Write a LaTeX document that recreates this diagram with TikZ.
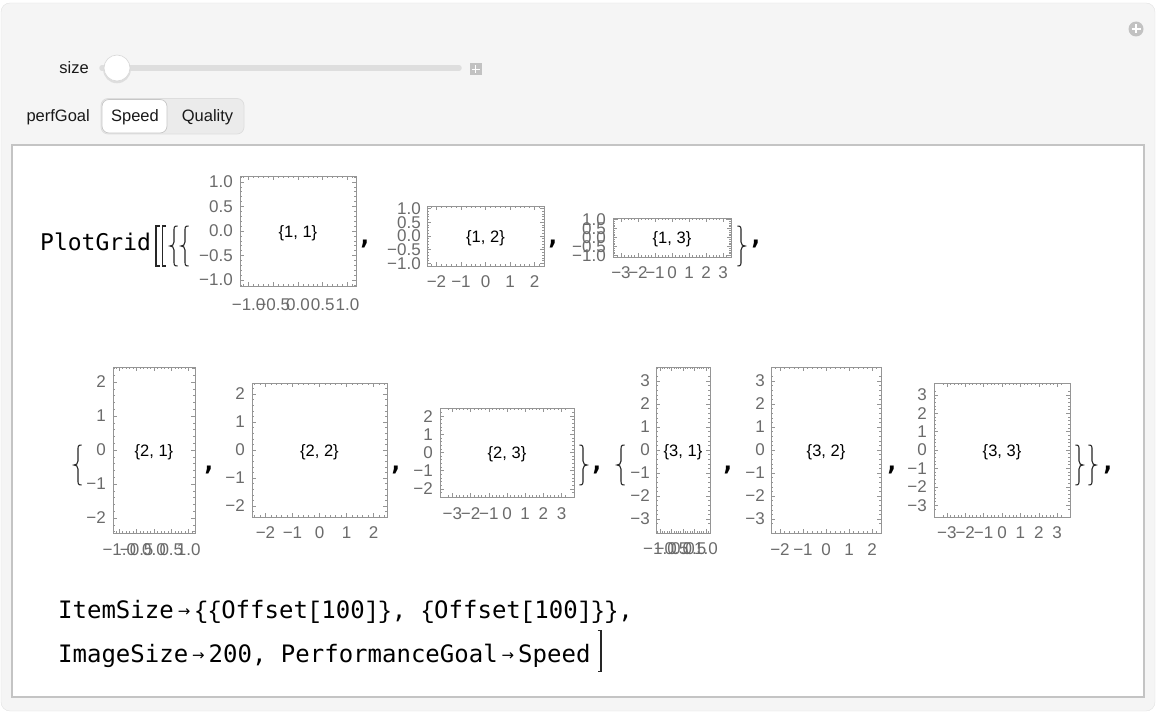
\documentclass[tikz,border=0pt]{standalone}
\usepackage{fontspec}
\setmainfont{Liberation Sans}
\newfontfamily\monof{DejaVu Sans Mono}
\newfontfamily\thinmono{Liberation Mono}
\newfontfamily\dvs{DejaVu Sans}
\definecolor{bgc}{HTML}{F5F5F5}
\definecolor{bgb}{HTML}{E2E2E2}
\definecolor{boxb}{HTML}{C4C4C4}
\definecolor{frgray}{HTML}{959595}
\definecolor{labgray}{HTML}{6B6B6B}
\definecolor{trk}{HTML}{DEDEDE}
\definecolor{icon}{HTML}{C2C2C2}
\definecolor{segbg}{HTML}{EBEBEB}
\definecolor{segb}{HTML}{DDDDDD}
\tikzset{
  mcode/.style={font=\monof\fontsize{24}{24}\selectfont, inner sep=0pt, anchor=base west},
  pfrm/.style={draw=frgray, line width=0.9pt, inner sep=0pt, fill=white},
  ptick/.style={draw=frgray, line width=0.6pt},
  tlab/.style={font=\fontsize{17}{17}\selectfont, text=labgray, inner sep=0pt},
  plab/.style={font=\fontsize{16.5}{16.5}\selectfont, text=black, inner sep=0pt},
  dlm/.style={draw=black!85, line width=1.1pt},
  cma/.style={font=\monof\bfseries\fontsize{25}{25}\selectfont, inner sep=0pt},
  uitext/.style={font=\fontsize{16.5}{16.5}\selectfont, text=black!90, inner sep=0pt},
}
\newcommand{\tbk}[1]{\makebox[13.5pt]{\thinmono #1}}
\newcommand{\marr}{\makebox[20.5pt]{\raisebox{1.5pt}{\dvs\fontsize{15}{15}\selectfont →}}}
% plot frame with ticks: #1 row, #2 col, #3 cx, #4 cy, #5 half width, #6 half height, #7 px per x major, #8 px per y major
\newcommand{\plotbox}[8]{%
  \node[pfrm, minimum width={2*#5}, minimum height={2*#6}] (p#1#2) at (#3,#4) {};
  \foreach \k in {-16,...,16}{%
    \pgfmathsetmacro\dd{\k*#7/5}%
    \pgfmathsetmacro\tl{mod(abs(\k),5)==0?4:2.2}%
    \pgfmathtruncatemacro\inr{abs(\dd)<(#5-1)?1:0}%
    \ifnum\inr=1
      \draw[ptick] (#3+\dd,#4+#6) -- ++(0,-\tl) (#3+\dd,#4-#6) -- ++(0,\tl);
    \fi
    \pgfmathsetmacro\ee{\k*#8/5}%
    \pgfmathtruncatemacro\inr{abs(\ee)<(#6-1)?1:0}%
    \ifnum\inr=1
      \draw[ptick] (#3-#5,#4+\ee) -- ++(\tl,0) (#3+#5,#4+\ee) -- ++(-\tl,0);
    \fi
  }%
  \node[plab] (p#1#2t) at (#3,#4+2) {\{#1, #2\}};
}
\newcommand{\xlabs}[5]{\foreach \i/\t in #5 {\node[tlab] (#1x\i) at (#2+\i*#4,#3) {\t};}}
\newcommand{\ylabs}[5]{\foreach \i/\t in #5 {\node[tlab, anchor=east] (#1y\i) at (#2,#3-\i*#4) {\t};}}
\def\LH{-2/−1.0,-1/−0.5,0/0.0,1/0.5,2/1.0}
\def\LT{-2/−2,-1/−1,0/0,1/1,2/2}
\def\LS{-3/−3,-2/−2,-1/−1,0/0,1/1,2/2,3/3}
% delimiters: x, y centre, half height
\newcommand{\lbrc}[3]{\draw[dlm] (#1+7.5,#2-#3) .. controls (#1+4,#2-#3) and (#1+4,#2-#3+1.5) .. (#1+4,#2-#3+5) -- (#1+4,#2-4) .. controls (#1+4,#2-1) and (#1+2,#2) .. (#1,#2) .. controls (#1+2,#2) and (#1+4,#2+1) .. (#1+4,#2+4) -- (#1+4,#2+#3-5) .. controls (#1+4,#2+#3-1.5) and (#1+4,#2+#3) .. (#1+7.5,#2+#3);}
\newcommand{\rbrc}[3]{\draw[dlm] (#1-7.5,#2-#3) .. controls (#1-4,#2-#3) and (#1-4,#2-#3+1.5) .. (#1-4,#2-#3+5) -- (#1-4,#2-4) .. controls (#1-4,#2-1) and (#1-2,#2) .. (#1,#2) .. controls (#1-2,#2) and (#1-4,#2+1) .. (#1-4,#2+4) -- (#1-4,#2+#3-5) .. controls (#1-4,#2+#3-1.5) and (#1-4,#2+#3) .. (#1-7.5,#2+#3);}
\newcommand{\lbrk}[3]{\draw[dlm] (#1+3.5,#2-#3) -- (#1,#2-#3) -- (#1,#2+#3) -- (#1+3.5,#2+#3);}
\newcommand{\rbrk}[3]{\draw[dlm] (#1-3.5,#2-#3) -- (#1,#2-#3) -- (#1,#2+#3) -- (#1-3.5,#2+#3);}
\begin{document}
\begin{tikzpicture}[x=1pt,y=-1pt]
\useasboundingbox (0,0) rectangle (1156,714);
% panel
\draw[draw=bgb, fill=bgc, rounded corners=9pt] (1,3) rectangle (1155,711);
% top-right icon
\fill[icon] (1136,29) circle (7.5);
\draw[white, line width=2pt] (1131.5,29) -- (1140.5,29) (1136,24.5) -- (1136,33.5);
% slider
\node[uitext, anchor=base east] (sizelab) at (89,74) {size};
\draw[trk, line width=5.5pt, line cap=round] (102,68) -- (459,68);
\fill[black!13] (117,69.5) circle (13.8);
\draw[draw=black!15, fill=white, line width=0.6pt] (117,68) circle (13);
\fill[icon] (469.5,63.5) rectangle (481.5,75.5);
\draw[white, line width=1.6pt] (471.5,69.5) -- (479.5,69.5) (475.5,65.5) -- (475.5,73.5);
% segmented control
\node[uitext, anchor=base east] (perflab) at (90,122) {perfGoal};
\draw[draw=segb, fill=segbg, rounded corners=7pt, line width=0.7pt] (101,98.5) rectangle (244,134);
\draw[draw=black!22, fill=white, rounded corners=7pt, line width=0.7pt] (102,99.5) rectangle (167,133);
\node[uitext, anchor=base] (speedbtn) at (135,122) {Speed};
\node[uitext, anchor=base] (qualbtn) at (207.5,122) {Quality};
% output box
\draw[draw=boxb, fill=white, line width=1.6pt] (12,145) rectangle (1144,697);
% row 1
\node[mcode, font=\monof\fontsize{23}{23}\selectfont] (pg) at (40,251) {PlotGrid};
\lbrk{156}{246}{20}
\lbrk{162.5}{246}{20}
\lbrc{170}{246}{20}
\lbrc{181}{246}{20}
\plotbox{1}{1}{298}{231}{58}{55}{24.7}{24.5}
\xlabs{p11}{298}{305}{24.7}{\LH}
\ylabs{p11}{233}{231}{24.5}{\LH}
\node[cma] (c1) at (365,244.5) {,};
\plotbox{1}{2}{485.5}{236}{58.5}{30}{24.5}{13.75}
\xlabs{p12}{485.5}{282}{24.5}{\LT}
\ylabs{p12}{421}{236}{13.75}{\LH}
\node[cma] (c2) at (553,244.5) {,};
\plotbox{1}{3}{672}{237.5}{59}{19.5}{17}{8.95}
\xlabs{p13}{672}{273}{17}{\LS}
\ylabs{p13}{606}{237.5}{8.95}{\LH}
\rbrc{745}{246}{20}
\node[cma] (c3) at (756,244.5) {,};
% row 2
\lbrc{74}{465}{20}
\plotbox{2}{1}{154}{450}{41}{83}{17.35}{34}
\xlabs{p21}{154}{550}{17.35}{\LH}
\ylabs{p21}{106}{450}{34}{\LT}
\node[cma] (c4) at (209,470) {,};
\plotbox{2}{2}{319.5}{450}{67.5}{67}{27}{28}
\xlabs{p22}{319.5}{533}{27}{\LT}
\ylabs{p22}{245}{450}{28}{\LT}
\node[cma] (c5) at (396,470) {,};
\plotbox{2}{3}{507}{452.5}{67}{44.5}{18.2}{18.2}
\xlabs{p23}{507}{514}{18.2}{\LS}
\ylabs{p23}{433}{452.5}{18.2}{\LT}
\rbrc{587}{465}{20}
\node[cma] (c6) at (597,470) {,};
\lbrc{617}{465}{20}
\plotbox{3}{1}{683}{450}{27}{83}{11.5}{23}
\xlabs{p31}{683}{549}{11.5}{\LH}
\ylabs{p31}{650}{450}{23}{\LS}
\node[cma] (c7) at (728,470) {,};
\plotbox{3}{2}{826}{450}{55}{83}{23}{23}
\xlabs{p32}{826}{550}{23}{\LT}
\ylabs{p32}{765}{450}{23}{\LS}
\node[cma] (c8) at (892,470) {,};
\plotbox{3}{3}{1002}{450}{68}{67}{18.4}{18.4}
\xlabs{p33}{1002}{533}{18.4}{\LS}
\ylabs{p33}{927}{450}{18.4}{\LS}
\rbrc{1083}{465}{20}
\rbrc{1096}{465}{20}
\node[cma] (c9) at (1108,470) {,};
% options
\node[mcode] (l1) at (58,618) {ItemSize\marr\tbk{\{}\tbk{\{}Offset\tbk{[}100\tbk{]}\tbk{\}}, \tbk{\{}Offset\tbk{[}100\tbk{]}\tbk{\}}\tbk{\}},};
\node[mcode] (l2) at (58,662) {ImageSize\marr200, PerformanceGoal\marr Speed};
\rbrk{601}{651}{20.5}
\end{tikzpicture}
\end{document}
